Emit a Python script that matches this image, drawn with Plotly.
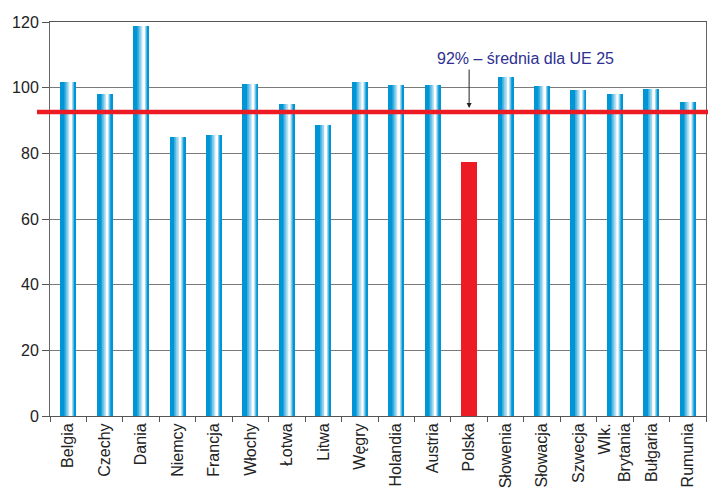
import plotly.graph_objects as go

countries = ["Belgia", "Czechy", "Dania", "Niemcy", "Francja", "Włochy", "Łotwa",
             "Litwa", "Węgry", "Holandia", "Austria", "Polska", "Słowenia",
             "Słowacja", "Szwecja", "Wlk.<br>Brytania", "Bułgaria", "Rumunia"]
values = [101.7, 98.1, 118.8, 85.0, 85.6, 101.1, 95.0, 88.6, 101.7, 100.8,
          100.8, 77.4, 103.3, 100.5, 99.3, 98.1, 99.6, 95.6]
highlight = "Polska"
eu_avg = 92.6
eu_label = "92% – średnia dla UE 25"
y_ticks = [0, 20, 40, 60, 80, 100, 120]

BLUE = (0, 150, 214)
WHITE = (255, 255, 255)
RED = "#ed1c24"
CAT_PX = 656 / len(countries)   # pixels per category
BAR_PX = 16

def mix(t):
    c = [round(BLUE[i] + (WHITE[i] - BLUE[i]) * t) for i in range(3)]
    return f"rgb({c[0]},{c[1]},{c[2]})"

fig = go.Figure()

# base layer (full bar width), Polska red
base_colors = [RED if c == highlight else mix(0) for c in countries]
fig.add_trace(go.Bar(x=countries, y=values, marker=dict(color=base_colors, line=dict(width=0)),
                     width=BAR_PX / CAT_PX, offset=-BAR_PX / 2 / CAT_PX, showlegend=False))

# gradient layers for the cylinder effect
n_layers = 10
grad_vals = [None if c == highlight else v for c, v in zip(countries, values)]
for k in range(1, n_layers + 1):
    t = k / n_layers
    left = 3.5 + t * 6.8
    right = 14.5 - t * 3.4
    if right - left < 0.4:
        right = left + 0.4
    fig.add_trace(go.Bar(x=countries, y=grad_vals,
                         marker=dict(color=mix(t ** 0.9), line=dict(width=0)),
                         width=(right - left) / CAT_PX,
                         offset=(left - BAR_PX / 2) / CAT_PX,
                         showlegend=False, hoverinfo="skip"))

fig.add_shape(type="line", xref="paper", yref="y", x0=-13 / 656, x1=1.01,
              y0=eu_avg, y1=eu_avg, line=dict(color=RED, width=4.5), layer="above")

fig.add_annotation(x=highlight, y=eu_avg + 1.2, xref="x", yref="y", text="",
                   showarrow=True, ax=0, ay=-40, arrowhead=2, arrowsize=1,
                   arrowwidth=1, arrowcolor="#222")
fig.add_annotation(x=(525 - 50) / 656, y=109, xref="paper", yref="y", text=eu_label,
                   showarrow=False, xanchor="center", yanchor="middle",
                   font=dict(size=16, color="#2e3192", family="Liberation Sans, Arial"))

fig.update_layout(
    width=708, height=492, barmode="overlay", bargap=0,
    margin=dict(l=50, r=2, t=22, b=76),
    paper_bgcolor="white", plot_bgcolor="white",
    font=dict(family="Liberation Sans, Arial", size=16, color="#222"),
)
fig.update_xaxes(type="category", tickangle=-90, tickson="boundaries", ticks="outside",
                 ticklen=5, tickcolor="#555", showline=True, linecolor="#555",
                 linewidth=1, mirror=True, showgrid=False,
                 tickfont=dict(size=16, color="#222"))
fig.update_yaxes(range=[0, 120], tickvals=y_ticks, ticks="outside", ticklen=7,
                 tickcolor="#555", showline=True, linecolor="#666", mirror=True,
                 showgrid=True, gridcolor="#7a7a7a", gridwidth=1, zeroline=False,
                 tickfont=dict(size=16, color="#222"))

fig.write_html("out.html")
